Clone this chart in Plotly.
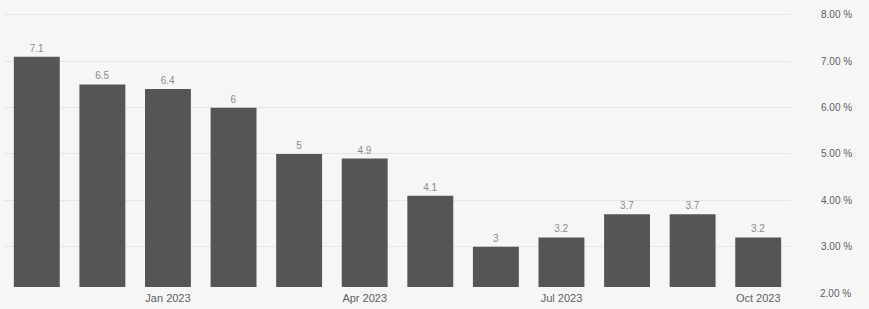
import plotly.graph_objects as go

months = ["Nov 2022", "Dec 2022", "Jan 2023", "Feb 2023", "Mar 2023", "Apr 2023",
          "May 2023", "Jun 2023", "Jul 2023", "Aug 2023", "Sep 2023", "Oct 2023"]
values = [7.1, 6.5, 6.4, 6, 5, 4.9, 4.1, 3, 3.2, 3.7, 3.7, 3.2]
value_labels = ["7.1", "6.5", "6.4", "6", "5", "4.9", "4.1", "3", "3.2", "3.7", "3.7", "3.2"]
x_tick_vals = ["Jan 2023", "Apr 2023", "Jul 2023", "Oct 2023"]
y_tick_vals = [2, 3, 4, 5, 6, 7, 8]
y_tick_text = ["2.00 %", "3.00 %", "4.00 %", "5.00 %", "6.00 %", "7.00 %", "8.00 %"]

y_range = [2.13, 8.15]

fig = go.Figure(go.Bar(
    x=months, y=values,
    text=value_labels, textposition="outside",
    textfont=dict(size=10, color="#8a8a8a", family="Liberation Sans"),
    marker=dict(color="#555555", line=dict(width=0)),
    cliponaxis=False,
))

fig.update_layout(
    width=869, height=309,
    margin=dict(l=4, r=78, t=8, b=22, autoexpand=False),
    paper_bgcolor="#f6f6f6", plot_bgcolor="#f6f6f6",
    bargap=0.3,
    showlegend=False,
    font=dict(family="Liberation Sans", size=10, color="#606060"),
    xaxis=dict(
        type="category", tickmode="array", tickvals=x_tick_vals, ticktext=x_tick_vals,
        showgrid=False, showline=False, ticks="", tickfont=dict(size=11, color="#606060"),
        range=[-0.5, 11.5], automargin=False, ticklabelstandoff=3,
    ),
    yaxis=dict(
        side="right", range=y_range, tickmode="array", tickvals=y_tick_vals,
        ticktext=y_tick_text, showgrid=True, gridcolor="#e6e6e6",
        zeroline=False, showline=False, ticks="", ticklabelstandoff=29,
        tickfont=dict(size=10, color="#606060"), automargin=False,
    ),
)

# lowest tick label sits just below the visible value range
y_low_paper = (y_tick_vals[0] - y_range[0]) / (y_range[1] - y_range[0])
fig.add_annotation(x=1, xref="paper", xanchor="left", xshift=27, y=y_low_paper, yref="paper",
                   yanchor="middle", text=y_tick_text[0], showarrow=False,
                   font=dict(size=10, color="#606060"))

fig.write_html("out.html", config={"displayModeBar": False},
               post_script="document.body.style.margin='0';")
